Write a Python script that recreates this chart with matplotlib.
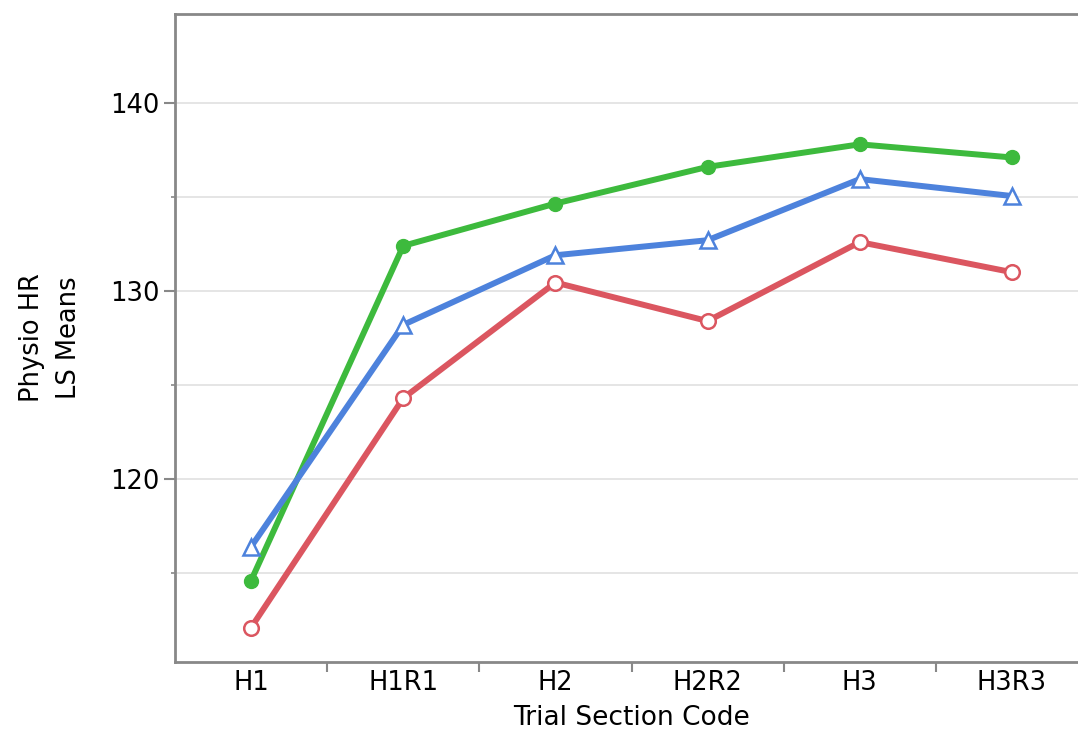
import matplotlib
matplotlib.use("Agg")
import matplotlib.pyplot as plt
from matplotlib.ticker import FixedLocator

categories = ["H1", "H1R1", "H2", "H2R2", "H3", "H3R3"]
green_vals = [114.6, 132.4, 134.65, 136.6, 137.8, 137.1]
blue_vals = [116.4, 128.2, 131.9, 132.7, 135.95, 135.05]
red_vals = [112.1, 124.3, 130.45, 128.4, 132.6, 131.0]
major_yticks = [120, 130, 140]
minor_yticks = [115, 125, 135]

plt.rcParams['font.family'] = ['DejaVu Sans']

fig = plt.figure(figsize=(10.78, 7.38), dpi=100)
ax = fig.add_axes([175/1078, 1-662/738, (1088-175)/1078, (662-14)/738])

x = list(range(len(categories)))
green = "#3dba3d"
blue = "#4d82dc"
red = "#db5660"

ax.plot(x, green_vals, color=green, lw=4.3, marker='o', ms=10, mfc=green, mec=green, zorder=3)
ax.plot(x, blue_vals, color=blue, lw=4.3, marker='^', ms=12, mfc='white', mec=blue, mew=1.8, zorder=3)
ax.plot(x, red_vals, color=red, lw=4.3, marker='o', ms=10.5, mfc='white', mec=red, mew=1.8, zorder=3)

ax.set_xlim(-0.5, len(categories) - 0.5)
ax.set_ylim(110.27, 144.73)

fs = 18.5
ax.set_xticks(x)
ax.set_xticklabels(categories, fontsize=fs)
ax.xaxis.set_minor_locator(FixedLocator([i + 0.5 for i in range(len(categories) - 1)]))
ax.tick_params(axis='x', which='major', length=0, pad=6)
ax.tick_params(axis='x', which='minor', length=7, width=1.5, color='#888888')

ax.set_yticks(major_yticks)
ax.set_yticklabels([str(v) for v in major_yticks], fontsize=fs)
ax.yaxis.set_minor_locator(FixedLocator(minor_yticks))
ax.tick_params(axis='y', which='major', length=8, width=1.5, color='#888888', pad=3)
ax.tick_params(axis='y', which='minor', length=3, width=1.2, color='#888888')

for v in major_yticks + minor_yticks:
    ax.axhline(v, color='#e3e3e3', lw=1.3, zorder=0)

for s in ['left', 'top', 'bottom']:
    ax.spines[s].set_color('#888888')
    ax.spines[s].set_linewidth(2)
ax.spines['right'].set_visible(False)

ax.set_xlabel("Trial Section Code", fontsize=fs + 0.5, labelpad=6)
ax.set_ylabel("Physio HR\nLS Means", fontsize=fs, labelpad=20, linespacing=1.55)

fig.savefig("out.png", dpi=100)
